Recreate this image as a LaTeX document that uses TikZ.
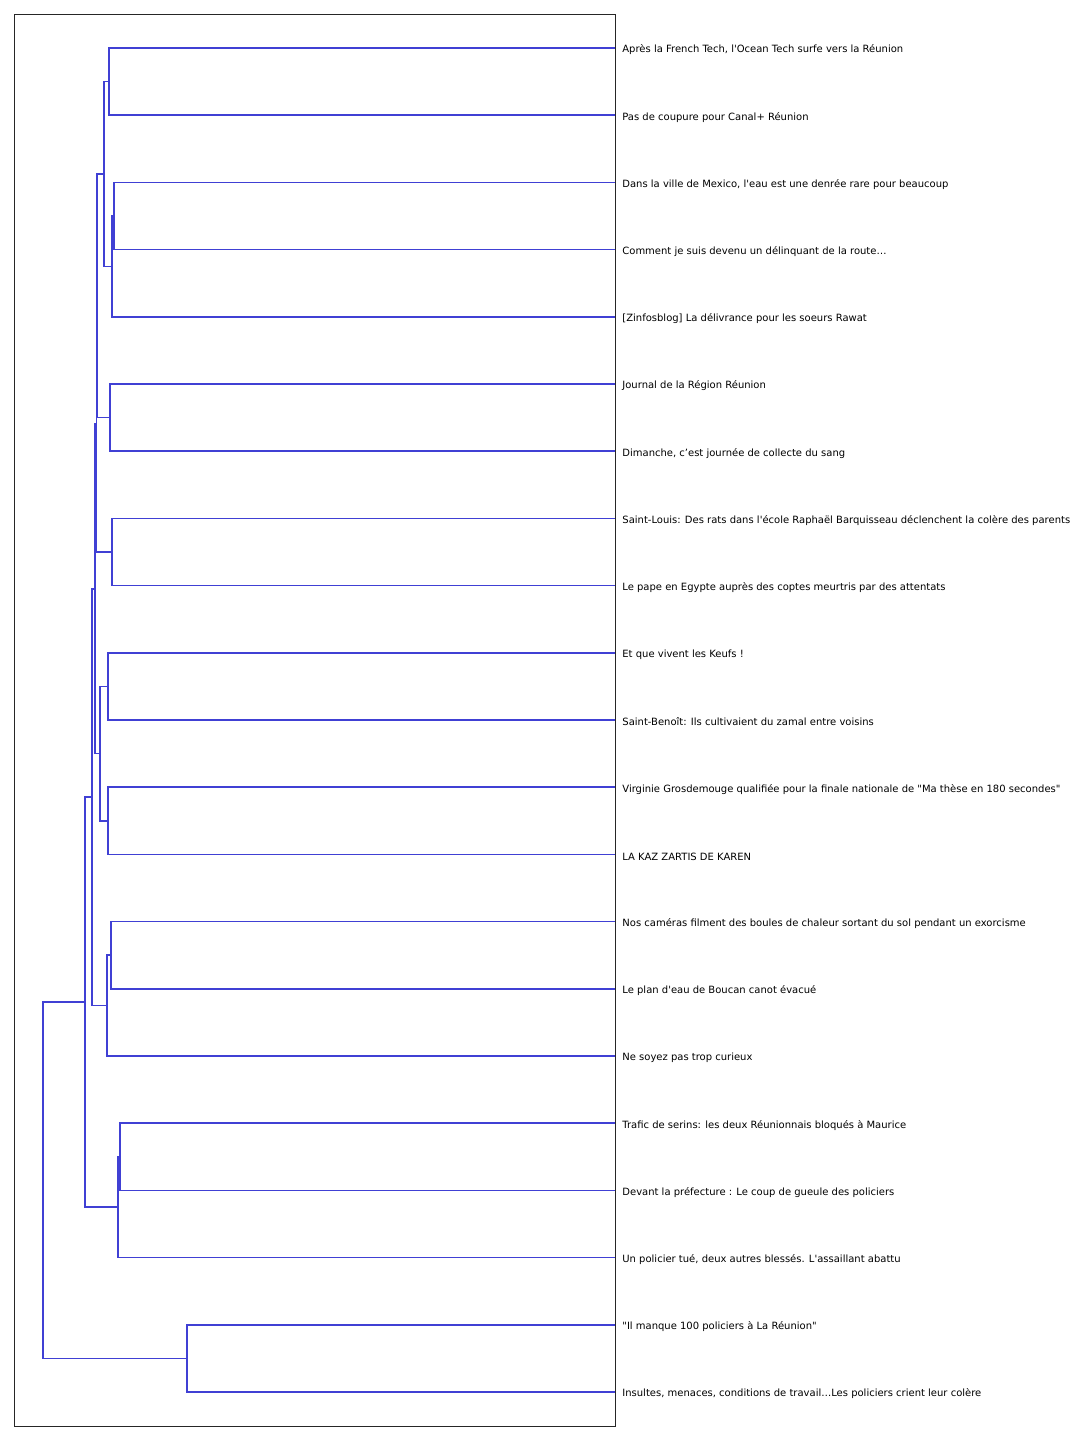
\documentclass[tikz,border=0pt]{standalone}
\usepackage{fontspec}
\setmainfont{DejaVu Sans}[Ligatures=TeXReset]
\definecolor{linkblue}{RGB}{64,64,212}
\begin{document}
\begin{tikzpicture}[x=0.5pt,y=-0.5pt,
  link/.style={draw=linkblue,line width=0.8pt},
  title/.style={anchor=west,inner sep=0pt,font=\fontsize{5}{6}\selectfont}]
\useasboundingbox (0,0) rectangle (1080,1440);
\draw[line width=0.45pt,black!85] (14,14) rectangle (615,1426);
\foreach \i/\t in {0/{Après la French Tech, l'Ocean Tech surfe vers la Réunion},
  1/{Pas de coupure pour Canal+ Réunion},
  2/{Dans la ville de Mexico, l'eau est une denrée rare pour beaucoup},
  3/{Comment je suis devenu un délinquant de la route…},
  4/{[Zinfosblog] La délivrance pour les soeurs Rawat},
  5/{Journal de la Région Réunion},
  6/{Dimanche, c’est journée de collecte du sang},
  7/{Saint-Louis: Des rats dans l'école Raphaël Barquisseau déclenchent la colère des parents},
  8/{Le pape en Egypte auprès des coptes meurtris par des attentats},
  9/{Et que vivent les Keufs !},
  10/{Saint-Benoît: Ils cultivaient du zamal entre voisins},
  11/{Virginie Grosdemouge qualifiée pour la finale nationale de "Ma thèse en 180 secondes"},
  12/{LA KAZ ZARTIS DE KAREN},
  13/{Nos caméras filment des boules de chaleur sortant du sol pendant un exorcisme},
  14/{Le plan d'eau de Boucan canot évacué},
  15/{Ne soyez pas trop curieux},
  16/{Trafic de serins: les deux Réunionnais bloqués à Maurice},
  17/{Devant la préfecture : Le coup de gueule des policiers},
  18/{Un policier tué, deux autres blessés. L'assaillant abattu},
  19/{"Il manque 100 policiers à La Réunion"},
  20/{Insultes, menaces, conditions de travail…Les policiers crient leur colère}} {
  \coordinate (L\i) at (615,48+67.2*\i);
  \node[title] (T\i) at (622,50+67.2*\i) {\t};
}
\foreach \n/\x/\y in {A01/109/81.6, A23/114/216, A24/112/266.4, A04/104/174,
  A56/110/417.6, A06/97/295.8, A78/112/552, A08/96.3/423.9,
  A910/108/686.4, A1112/108/820.8, A912/100/753.6, A012/95/588.75,
  A1314/111/955.2, A1315/107/1005.6, A015/92/797.2,
  A1617/120/1156.8, A1618/118/1207.2, A018/85/1002.2,
  A1920/187/1358.4, root/43/1180.3} {
  \coordinate (\n) at (\x,\y);
}
\foreach \a/\p/\b in {L0/A01/L1, L2/A23/L3, A23/A24/L4, A01/A04/A24,
  L5/A56/L6, A04/A06/A56, L7/A78/L8, A06/A08/A78,
  L9/A910/L10, L11/A1112/L12, A910/A912/A1112, A08/A012/A912,
  L13/A1314/L14, A1314/A1315/L15, A012/A015/A1315,
  L16/A1617/L17, A1617/A1618/L18, A015/A018/A1618,
  L19/A1920/L20, A018/root/A1920} {
  \draw[link] (\a) -| (\p) |- (\b);
}
\end{tikzpicture}
\end{document}
